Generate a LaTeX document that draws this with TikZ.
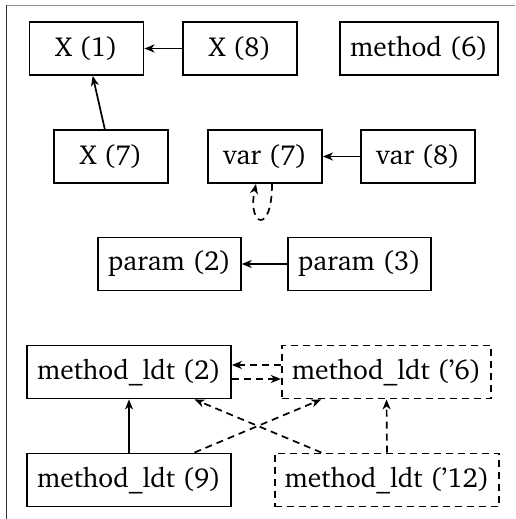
\documentclass[tikz,border=0pt]{standalone}
\usepackage[T1]{fontenc}
\usepackage{charter}
\usetikzlibrary{arrows.meta}
\begin{document}
\begin{tikzpicture}[x=1pt,y=-1pt,
  box/.style={draw, line width=1.9pt, minimum width=114pt, minimum height=53pt, inner xsep=10pt, font=\fontsize{27.5}{33}\selectfont},
  dbox/.style={box, dash pattern=on 7pt off 5pt},
  edge/.style={line width=1.7pt, -{Stealth[length=10pt,width=8pt,inset=3pt]}},
  dedge/.style={edge, dash pattern=on 7pt off 5pt}]
\useasboundingbox (0,0) rectangle (515,519);
\draw[line width=0.9pt, black!45] (6,5.5) -- (515,5.5);
\draw[line width=0.9pt, black!80] (6,5.5) -- (6,519);
\node[box] (x1) at (86.5,48.5) {X (1)};
\node[box] (x8) at (240,48.5) {X (8)};
\node[box] (m6) at (419,48.5) {method (6)};
\node[box] (x7) at (111,156.5) {X (7)};
\node[box] (v7) at (265,156.5) {var (7)};
\node[box] (v8) at (418,156.5) {var (8)};
\node[box] (p2) at (169.5,264) {param (2)};
\node[box] (p3) at (359.5,264) {param (3)};
\node[box] (l2) at (129,372) {method\_ldt (2)};
\node[dbox] (l6) at (386.5,372) {method\_ldt ({'}6)};
\node[box] (l9) at (129,480) {method\_ldt (9)};
\node[dbox] (l12) at (387,480) {method\_ldt ({'}12)};
\draw[edge] (x8) -- (x1);
\draw[edge] (x7) -- (x1);
\draw[edge] (v8) -- (v7);
\draw[edge] (p3) -- (p2);
\draw[dedge] ([xshift=7pt]v7.south) .. controls +(0,52) and +(-9,42) .. ([xshift=-9pt]v7.south);
\draw[dedge] ([yshift=7pt]l6.west) -- ([yshift=7pt]l2.east);
\draw[dedge] ([yshift=-7pt]l2.east) -- ([yshift=-7pt]l6.west);
\draw[edge] (l9) -- (l2);
\draw[dedge] (l9) -- (l6);
\draw[dedge] (l12) -- (l2);
\draw[dedge] (l12.north) -- (l6.south);
\end{tikzpicture}
\end{document}
